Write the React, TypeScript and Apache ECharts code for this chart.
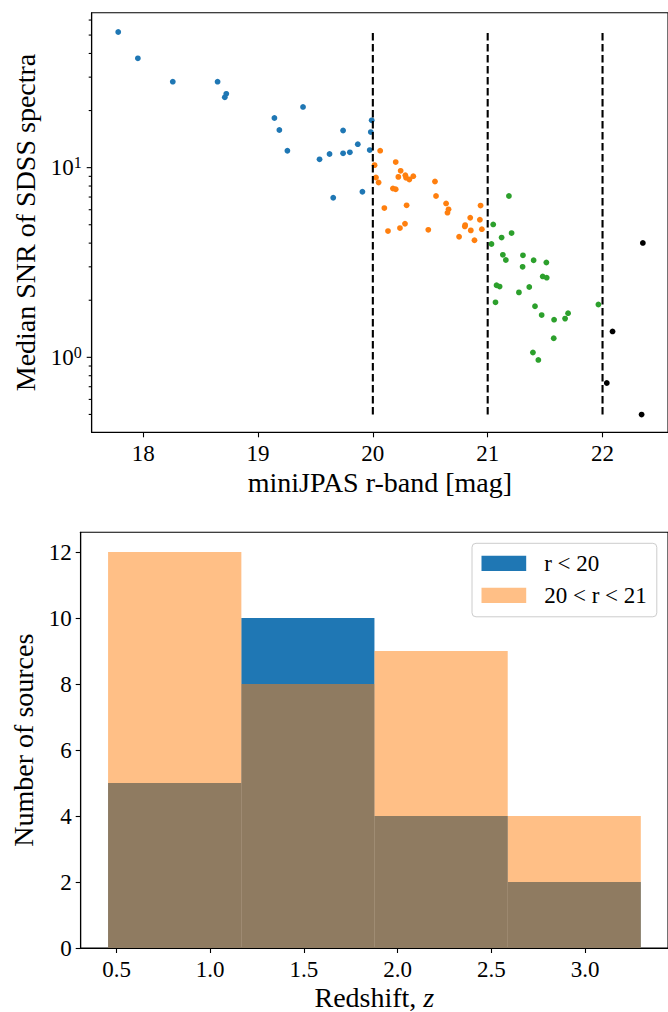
import React, { useEffect, useRef } from "react";
import * as echarts from "echarts";

// ---- data -------------------------------------------------------------
// [miniJPAS r-band magnitude, median SNR of the SDSS spectrum]
const brightSources: number[][] = [
  [17.783, 51.9], [17.954, 37.7], [18.258, 28.4], [18.648, 28.4], [18.724, 24.5],
  [18.711, 23.5], [19.392, 20.9], [19.143, 18.26], [19.186, 15.8], [19.256, 12.28],
  [19.536, 11.06], [19.623, 11.8], [19.741, 15.7], [19.741, 11.9], [19.8, 12.04],
  [19.869, 13.3], [19.99, 17.76], [19.982, 15.4], [19.973, 12.38], [19.655, 6.94],
  [19.909, 7.46],
];
const midSources: number[][] = [
  [20.064, 12.29], [20.015, 10.31], [20.199, 10.7], [20.242, 9.62], [20.027, 8.87],
  [20.05, 8.35], [20.222, 8.94], [20.283, 9.13], [20.289, 8.84], [20.318, 8.66],
  [20.352, 9.02], [20.175, 7.76], [20.199, 7.69], [20.541, 8.45], [20.55, 7.09],
  [20.1, 6.12], [20.294, 6.33], [20.132, 4.63], [20.236, 4.8], [20.28, 5.06],
  [20.483, 4.7], [20.638, 6.48], [20.659, 6.03], [20.65, 5.79], [20.848, 5.44],
  [20.801, 4.9], [20.804, 4.98], [20.853, 4.67], [20.751, 4.32], [20.885, 4.14],
  [20.938, 6.31], [20.932, 5.31], [20.949, 4.74],
];
const faintSources: number[][] = [
  [21.185, 7.09], [21.048, 5.02], [21.033, 3.96], [21.121, 4.28], [21.208, 4.52],
  [21.132, 3.47], [21.158, 3.26], [21.307, 3.45], [21.304, 3.0], [21.4, 3.25],
  [21.511, 3.16], [21.479, 2.67], [21.514, 2.63], [21.077, 2.4], [21.104, 2.36],
  [21.272, 2.2], [21.362, 2.35], [21.068, 1.95], [21.412, 1.86], [21.47, 1.67],
  [21.578, 1.58], [21.674, 1.6], [21.7, 1.71], [21.575, 1.26], [21.394, 1.06],
  [21.441, 0.969], [21.964, 1.9],
];
const faintestSources: number[][] = [
  [22.351, 4.01], [22.087, 1.37], [22.037, 0.732], [22.34, 0.499],
];

const magTicks = [18, 19, 20, 21, 22];
const magCuts = [20, 21, 22];
const snrMajorTicks = [1, 10];
const snrMinorTicks = [0.5, 0.6, 0.7, 0.8, 0.9, 2, 3, 4, 5, 6, 7, 8, 9, 20, 30, 40, 50, 60];

// redshift histogram (4 bins)
const zBinEdges = [0.455, 1.166, 1.876, 2.587, 3.297];
const countsBright = [5, 10, 4, 2];
const countsMid = [12, 8, 9, 4];
const zTicks = [0.5, 1.0, 1.5, 2.0, 2.5, 3.0];
const countTicks = [0, 2, 4, 6, 8, 10, 12];

// ---- styling ------------------------------------------------------------
const FONT = "Liberation Serif";
const FONT_CSS = '"Liberation Serif", "Times New Roman", serif';
const TICK_FS = 23;
const LABEL_FS = 28;
const C_BLUE = "#1f77b4";
const C_ORANGE = "#ff7f0e";
const C_GREEN = "#2ca02c";
const C_BLACK = "#000000";
const SPINE = { color: "#000", width: 1.1 };

const MAG_MIN = 17.552;
const MAG_MAX = 22.57;
const SNR_MIN = 0.4025;
const SNR_MAX = 65.6;

const tickText = { fontFamily: FONT, fontSize: TICK_FS, color: "#000" };
const labelText = { fontFamily: FONT, fontSize: LABEL_FS, color: "#000" };

export default function App() {
  const ref = useRef<HTMLDivElement>(null);

  useEffect(() => {
    document.body.style.margin = "0";
    // serif face for every text node of the chart
    const css = document.createElement("style");
    css.textContent = `.snr-chart svg text { font-family: ${FONT_CSS} !important; }`;
    document.head.appendChild(css);

    const host = ref.current;
    if (!host) return;
    const chart = echarts.init(host, undefined, { renderer: "svg" });

    const allSnr = [...brightSources, ...midSources, ...faintSources, ...faintestSources].map(
      (p) => p[1]
    );
    const snrLo = Math.min(...allSnr);
    const snrHi = Math.max(...allSnr);

    const scatter = (name: string, data: number[][], color: string) => ({
      name,
      type: "scatter",
      xAxisIndex: 0,
      yAxisIndex: 0,
      data,
      symbolSize: 5.8,
      itemStyle: { color, opacity: 1 },
      silent: true,
      z: 2,
    });

    const logTicks = (values: number[], len: number) => ({
      type: "custom",
      xAxisIndex: 0,
      yAxisIndex: 0,
      silent: true,
      clip: false,
      data: values.map((v) => [MAG_MIN, v]),
      encode: { x: 0, y: 1 },
      renderItem: (_p: any, api: any) => {
        const pt = api.coord([api.value(0), api.value(1)]);
        return {
          type: "line",
          shape: { x1: pt[0] - len, y1: pt[1], x2: pt[0], y2: pt[1] },
          style: { stroke: "#000", lineWidth: 1.1 },
        };
      },
      z: 5,
    });

    const histSeries = (name: string, counts: number[], fill: string) => ({
      name,
      type: "custom",
      xAxisIndex: 1,
      yAxisIndex: 1,
      silent: true,
      data: counts.map((n, i) => [zBinEdges[i], zBinEdges[i + 1], n]),
      encode: { x: [0, 1], y: 2 },
      itemStyle: { color: fill },
      renderItem: (_p: any, api: any) => {
        const top = api.coord([api.value(0), api.value(2)]);
        const base = api.coord([api.value(1), 0]);
        return {
          type: "rect",
          shape: { x: top[0], y: top[1], width: base[0] - top[0], height: base[1] - top[1] },
          style: { fill },
        };
      },
    });

    chart.setOption({
      animation: false,
      grid: [
        { left: 91.7, top: 12.7, width: 578.3, height: 419.6, show: true, borderColor: "#000", borderWidth: 1.1 },
        { left: 80.7, top: 532.3, width: 589.3, height: 416.7, show: true, borderColor: "#000", borderWidth: 1.1 },
      ],
      xAxis: [
        {
          gridIndex: 0,
          type: "value",
          min: MAG_MIN,
          max: MAG_MAX,
          name: "miniJPAS r-band [mag]",
          nameLocation: "middle",
          nameGap: 36,
          nameTextStyle: labelText,
          axisLine: { show: true, lineStyle: SPINE },
          axisTick: { show: true, length: 5, customValues: magTicks, lineStyle: SPINE },
          axisLabel: { customValues: magTicks, ...tickText, margin: 10 },
          splitLine: { show: false },
        },
        {
          gridIndex: 1,
          type: "value",
          min: 0.309,
          max: 3.442,
          name: "Redshift, {i|z}",
          nameLocation: "middle",
          nameGap: 35,
          nameTextStyle: {
            ...labelText,
            rich: { i: { ...labelText, fontStyle: "italic" } },
          },
          axisLine: { show: true, lineStyle: SPINE },
          axisTick: { show: true, length: 5, customValues: zTicks, lineStyle: SPINE },
          axisLabel: {
            customValues: zTicks,
            formatter: (v: number) => v.toFixed(1),
            ...tickText,
            margin: 10,
          },
          splitLine: { show: false },
        },
      ],
      yAxis: [
        {
          gridIndex: 0,
          type: "log",
          logBase: 10,
          min: SNR_MIN,
          max: SNR_MAX,
          name: "Median SNR of SDSS spectra",
          nameLocation: "middle",
          nameGap: 52,
          nameTextStyle: labelText,
          axisLine: { show: true, lineStyle: SPINE },
          axisTick: { show: false },
          axisLabel: {
            showMinLabel: false,
            showMaxLabel: false,
            margin: 10,
            ...tickText,
            formatter: (v: number) => {
              const e = Math.log10(v);
              const r = Math.round(e);
              if (Math.abs(e - r) < 1e-6 && snrMajorTicks.some((t) => Math.abs(t - v) / t < 1e-6)) {
                return "{b|10}{sup|" + r + "}";
              }
              return "";
            },
            rich: {
              b: { ...tickText },
              sup: { fontFamily: FONT, fontSize: 16, color: "#000", verticalAlign: "top", padding: [0, 0, 10, 0] },
            },
          },
          splitLine: { show: false },
          minorTick: { show: false },
        },
        {
          gridIndex: 1,
          type: "value",
          min: 0,
          max: 12.6,
          name: "Number of sources",
          nameLocation: "middle",
          nameGap: 42,
          nameTextStyle: labelText,
          axisLine: { show: true, lineStyle: SPINE },
          axisTick: { show: true, length: 5, customValues: countTicks, lineStyle: SPINE },
          axisLabel: { customValues: countTicks, ...tickText, margin: 9 },
          splitLine: { show: false },
        },
      ],
      legend: {
        orient: "vertical",
        left: 472,
        top: 543.3,
        selectedMode: false,
        data: [
          { name: "r < 20", icon: "rect", itemStyle: { color: C_BLUE } },
          { name: "20 < r < 21", icon: "rect", itemStyle: { color: "rgba(255,127,14,0.5)" } },
        ],
        itemWidth: 44.7,
        itemHeight: 15.3,
        itemGap: 9,
        padding: [8.5, 10, 10, 9.5],
        backgroundColor: "rgba(255,255,255,0.8)",
        borderColor: "#cccccc",
        borderWidth: 1,
        borderRadius: 4,
        textStyle: { ...tickText, lineHeight: 23, padding: [0, 0, 0, 13] },
      },
      series: [
        scatter("bright", brightSources, C_BLUE),
        scatter("mid", midSources, C_ORANGE),
        scatter("faint", faintSources, C_GREEN),
        scatter("faintest", faintestSources, C_BLACK),
        {
          name: "cuts",
          type: "custom",
          xAxisIndex: 0,
          yAxisIndex: 0,
          silent: true,
          data: magCuts.map((m) => [m, snrLo, snrHi]),
          encode: { x: 0, y: [1, 2] },
          renderItem: (_p: any, api: any) => {
            const lo = api.coord([api.value(0), api.value(1)]);
            const hi = api.coord([api.value(0), api.value(2)]);
            return {
              type: "line",
              shape: { x1: lo[0], y1: lo[1], x2: hi[0], y2: hi[1] },
              style: { stroke: "#000", lineWidth: 2.1, lineDash: [7.7, 3.3] },
            };
          },
          z: 3,
        },
        logTicks(snrMajorTicks, 5),
        logTicks(snrMinorTicks, 3),
        histSeries("r < 20", countsBright, C_BLUE),
        histSeries("20 < r < 21", countsMid, "rgba(255,127,14,0.5)"),
      ],
    });

    return () => {
      chart.dispose();
      css.remove();
    };
  }, []);

  return <div ref={ref} className="snr-chart" style={{ width: 668, height: 1012, fontFamily: FONT_CSS }} />;
}
